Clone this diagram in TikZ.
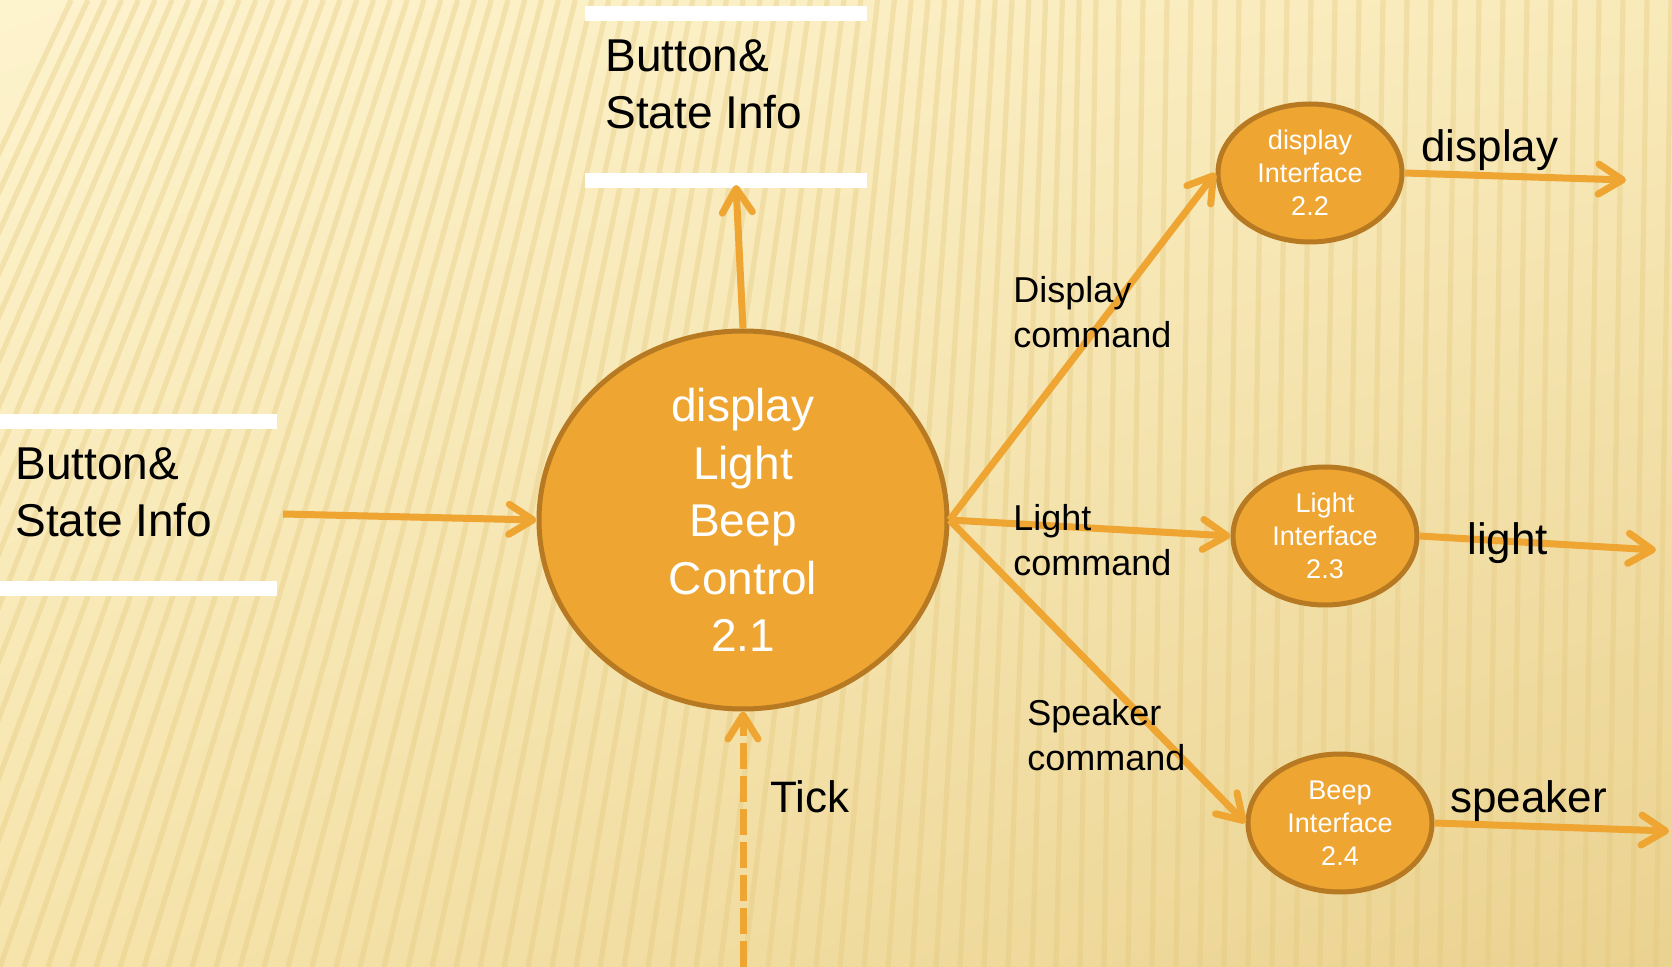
\documentclass[tikz,border=0pt]{standalone}
\usepackage{fontspec}
\setmainfont{Liberation Sans}
\usetikzlibrary{shapes.geometric,arrows.meta,shadings}
\definecolor{bgA}{HTML}{FDF3CD}
\definecolor{bgB}{HTML}{F9EABA}
\definecolor{bgC}{HTML}{F6E4AC}
\definecolor{bgD}{HTML}{EAD290}
\definecolor{stripe}{HTML}{E3C77A}
\definecolor{flow}{HTML}{EEA532}
\definecolor{procfill}{HTML}{EEA532}
\definecolor{procdraw}{HTML}{B77A22}
\tikzset{
  proc/.style={ellipse, fill=procfill, draw=procdraw, line width=2.5pt, inner sep=0pt, text=white, align=center},
  bigproc/.style={proc, minimum width=204pt, minimum height=189pt, font=\fontsize{23}{28.8}\selectfont},
  smallproc/.style={proc, minimum width=92pt, minimum height=69pt, font=\fontsize{13.5}{16.5}\selectfont},
  flowline/.style={draw=flow, line width=3.5pt, -{Straight Barb[round, length=12pt, width=15pt]}},
  storetext/.style={anchor=west, align=left, inner sep=0pt, font=\fontsize{23}{28.5}\selectfont},
  cmdlabel/.style={anchor=west, align=left, inner sep=0pt, font=\fontsize{18}{22.5}\selectfont},
  outlabel/.style={anchor=west, inner sep=0pt, font=\fontsize{22}{26}\selectfont},
  storebar/.style={draw=white, line width=7.5pt}
}
\begin{document}
\begin{tikzpicture}[x=0.5pt,y=-0.5pt]
\useasboundingbox (0,0) rectangle (1672,967);
% background
\shade[upper left=bgA, upper right=bgB, lower left=bgC, lower right=bgD] (0,0) rectangle (1672,967);
\begin{scope}
\clip (0,0) rectangle (1672,967);
\foreach \i in {-16,...,72}{
  \pgfmathsetmacro{\xb}{\i*24}
  \pgfmathsetmacro{\off}{max(15,340-0.3*\xb)}
  \pgfmathsetmacro{\xt}{\xb+\off}
  \draw[stripe, opacity=0.35, line width=2.6pt] (\xb,967) -- (\xt,0);
}
\end{scope}
% data stores
\draw[storebar] (585,14) -- (867,14);
\draw[storebar] (585,181) -- (867,181);
\node[storetext] (storeTop) at (605,84) {Button\&\\State Info};
\draw[storebar] (0,422) -- (277,422);
\draw[storebar] (0,589) -- (277,589);
\node[storetext] (storeLeft) at (15,492) {Button\&\\State Info};
% processes
\node[bigproc] (ctrl) at (743,520) {display\\Light\\Beep\\Control\\2.1};
\node[smallproc] (disp) at (1310,173) {display\\Interface\\2.2};
\node[smallproc] (light) at (1325,536) {Light\\Interface\\2.3};
\node[smallproc] (beep) at (1340,823) {Beep\\Interface\\2.4};
% coordinates
\coordinate (inL) at (283,514);
\coordinate (outTop) at (736,185);
\coordinate (tickSrc) at (743,967);
\coordinate (outDisp) at (1626,180);
\coordinate (outLight) at (1656,550);
\coordinate (outBeep) at (1669,831);
% flows
\draw[flowline] (inL) -- (ctrl.west);
\draw[flowline] (ctrl.north) -- (outTop);
\draw[flowline, dash pattern=on 13pt off 3.5pt] (tickSrc) -- (ctrl.south);
\draw[flowline] (ctrl.east) -- (disp.west);
\draw[flowline] (ctrl.east) -- (light.west);
\draw[flowline] (ctrl.east) -- (beep.west);
\draw[flowline] (disp.east) -- (outDisp);
\draw[flowline] (light.east) -- (outLight);
\draw[flowline] (beep.east) -- (outBeep);
% labels
\node[cmdlabel] (lblDisp) at (1013,312) {Display\\command};
\node[cmdlabel] (lblLight) at (1013,540) {Light\\command};
\node[cmdlabel] (lblBeep) at (1027,735) {Speaker\\command};
\node[outlabel] (lblTick) at (770,797) {Tick};
\node[outlabel] (lblOD) at (1421,150) {display};
\node[outlabel] (lblOL) at (1467,543) {light};
\node[outlabel] (lblOB) at (1450,801) {speaker};
\end{tikzpicture}
\end{document}
